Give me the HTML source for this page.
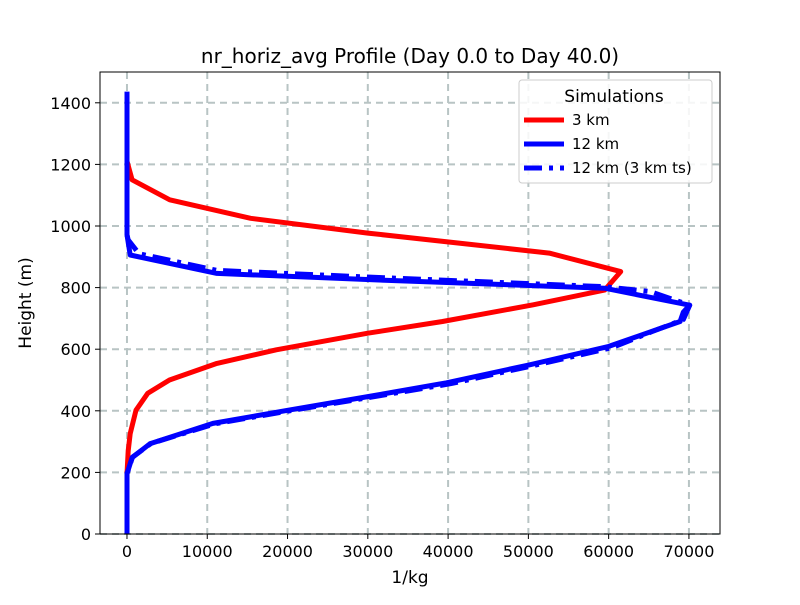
<!DOCTYPE html>
<html><head><meta charset="utf-8"><style>
body{margin:0;background:#fff;font-family:"Liberation Sans","DejaVu Sans",sans-serif;}
</style></head><body>
<svg id="chart" width="800" height="600" xmlns="http://www.w3.org/2000/svg" font-family="DejaVu Sans, Liberation Sans, sans-serif">
<rect width="800" height="600" fill="#fff"/>
<g id="grid"></g>
<g id="series"></g>
<rect x="100" y="72" width="620" height="462" fill="none" stroke="#000" stroke-width="1"/>
<g id="ticks"></g>
<text x="410" y="63" text-anchor="middle" font-size="20">nr_horiz_avg Profile (Day 0.0 to Day 40.0)</text>
<text x="410" y="583" text-anchor="middle" font-size="17">1/kg</text>
<text x="31" y="303" text-anchor="middle" font-size="17" transform="rotate(-90 31 303)">Height (m)</text>
<g>
<rect x="519" y="80" width="193" height="103" rx="3" fill="#fff" fill-opacity="0.85" stroke="#ccc"/>
<text x="614" y="102" text-anchor="middle" font-size="17">Simulations</text>
<line x1="524" y1="120" x2="564" y2="120" stroke="#f00" stroke-width="5"/>
<text x="572" y="125" font-size="15">3 km</text>
<line x1="524" y1="144" x2="564" y2="144" stroke="#00f" stroke-width="5"/>
<text x="572" y="149" font-size="15">12 km</text>
<line x1="524" y1="168" x2="564" y2="168" stroke="#00f" stroke-width="5" stroke-dasharray="18,7,4,7"/>
<text x="572" y="173" font-size="15">12 km (3 km ts)</text>
</g>
</svg>
<script>
const xTicks=[0,10000,20000,30000,40000,50000,60000,70000];
const yTicks=[0,200,400,600,800,1000,1200,1400];
const redX=[0,0,150,400,1130,2600,5300,11200,18600,30000,39300,50600,59500,61500,52600,30000,15400,5320,640,0];
const redH=[0,196,270,326,402,457,500,554,598,652,690,744,792,852,912,977,1025,1085,1150,1210];
const blueX=[0,0,640,2860,10700,20100,30000,39800,50100,60000,68900,69300,70100,59500,31000,11200,400,0,0];
const blueH=[0,196,248,293,359,402,446,491,549,609,690,720,743,798,825,846,906,971,1436];
const dashX=[0,0,700,3000,11000,20500,30400,40300,50500,60400,65400,69300,70100,65200,59500,31000,11200,1500,150,0,0];
const dashH=[0,196,250,294,358,401,444,488,546,605,657,696,743,787,803,833,856,910,955,971,1436];
const X0=100,X1=720,Y0=534,Y1=72,xmin=-3360,xmax=73870,ymin=0,ymax=1500;
const sx=v=>X0+(v-xmin)/(xmax-xmin)*(X1-X0);
const sy=v=>Y0-(v-ymin)/(ymax-ymin)*(Y0-Y1);
const NS="http://www.w3.org/2000/svg";
const grid=document.getElementById('grid'),ticks=document.getElementById('ticks'),ser=document.getElementById('series');
function mk(tag,at,parent){const e=document.createElementNS(NS,tag);for(const k in at)e.setAttribute(k,at[k]);parent.appendChild(e);return e;}
xTicks.forEach(v=>{const x=sx(v);
 const g=mk('line',{x1:x,y1:Y1,x2:x,y2:Y0,stroke:'#b8c4c4','stroke-width':2,'stroke-dasharray':'7,5'},grid);
 
 
 const t=mk('line',{x1:x,y1:Y0,x2:x,y2:Y0+5,stroke:'#000'},ticks);
 
 
 const l=mk('text',{x:x,y:Y0+23,'text-anchor':'middle','font-size':16},ticks);l.textContent=v;
 
 
});
yTicks.forEach(v=>{const y=sy(v);
 const g=mk('line',{x1:X0,y1:y,x2:X1,y2:y,stroke:'#b8c4c4','stroke-width':2,'stroke-dasharray':'7,5'},grid);
 
 
 const t=mk('line',{x1:X0-5,y1:y,x2:X0,y2:y,stroke:'#000'},ticks);
 
 
 const l=mk('text',{x:X0-9,y:y+6,'text-anchor':'end','font-size':16},ticks);l.textContent=v;
 
 
});
function line(xs,hs,color,dash,name){
 const pts=xs.map((v,i)=>sx(v).toFixed(1)+','+sy(hs[i]).toFixed(1)).join(' ');
 const p=mk('polyline',{points:pts,fill:'none',stroke:color,'stroke-width':5,'stroke-linejoin':'round'},ser);
 if(dash)p.setAttribute('stroke-dasharray',dash);
 
 
}
line(redX,redH,'#f00',null,'line-3km');
line(dashX,dashH,'#00f','18,7,4,7','line-12km-3kmts');
line(blueX,blueH,'#00f',null,'line-12km');
</script>
</body></html>
